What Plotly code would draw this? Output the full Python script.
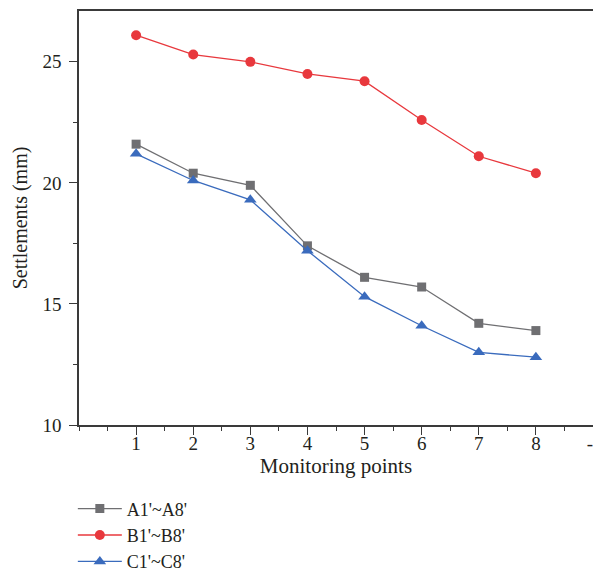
import plotly.graph_objects as go

points = [1, 2, 3, 4, 5, 6, 7, 8]
series_a = [21.6, 20.4, 19.9, 17.4, 16.1, 15.7, 14.2, 13.9]
series_b = [26.1, 25.3, 25.0, 24.5, 24.2, 22.6, 21.1, 20.4]
series_c = [21.2, 20.1, 19.3, 17.2, 15.3, 14.1, 13.0, 12.8]
names = ["A1'~A8'", "B1'~B8'", "C1'~C8'"]
x_tickvals = [1, 2, 3, 4, 5, 6, 7, 8, 9]
x_ticktext = ["1", "2", "3", "4", "5", "6", "7", "8", "--"]
y_tickvals = [10, 15, 20, 25]

FONT = "Liberation Serif"
AX = "#3a3a3a"

fig = go.Figure()
fig.add_trace(go.Scatter(x=points, y=series_a, name=names[0], mode="lines+markers",
                         line=dict(color="#6f6f72", width=1.3),
                         marker=dict(symbol="square", size=9, color="#6f6f72")))
fig.add_trace(go.Scatter(x=points, y=series_b, name=names[1], mode="lines+markers",
                         line=dict(color="#e8383d", width=1.3),
                         marker=dict(symbol="circle", size=10, color="#e8383d")))
fig.add_trace(go.Scatter(x=points, y=series_c, name=names[2], mode="lines+markers",
                         line=dict(color="#3a6bbd", width=1.3),
                         marker=dict(symbol="triangle-up", size=11, color="#3a6bbd")))

fig.update_layout(
    width=593, height=565,
    margin=dict(l=71, r=8, t=3, b=148, autoexpand=False),
    plot_bgcolor="white", paper_bgcolor="white",
    font=dict(family=FONT, size=19, color="#231f20"),
    showlegend=True,
    legend=dict(x=-0.012, y=-0.158, xanchor="left", yanchor="top",
                font=dict(family=FONT, size=18), tracegroupgap=0, itemwidth=44,
                bgcolor="rgba(0,0,0,0)"),
    xaxis=dict(range=[0, 9], tickmode="array", tickvals=x_tickvals, ticktext=x_ticktext,
               ticks="outside", ticklen=8, tickwidth=1.2, tickcolor=AX,
               ticklabelstandoff=-8,
               showline=True, linecolor=AX, linewidth=1.5, mirror=True,
               showgrid=False, zeroline=False,
               minor=dict(tickmode="linear", tick0=0, dtick=0.5, ticks="outside",
                          ticklen=4, tickwidth=1.2, tickcolor=AX),
               title=dict(text="Monitoring points", font=dict(size=21), standoff=3)),
    yaxis=dict(range=[10, 27.1], tickmode="array", tickvals=y_tickvals,
               ticks="outside", ticklen=8, tickwidth=1.2, tickcolor=AX,
               ticklabelstandoff=4,
               showline=True, linecolor=AX, linewidth=1.5, mirror=True,
               showgrid=False, zeroline=False,
               minor=dict(tickmode="linear", tick0=10, dtick=2.5, ticks="outside",
                          ticklen=4, tickwidth=1.2, tickcolor=AX),
               title=dict(text="Settlements (mm)", font=dict(size=20), standoff=9)),
)
for i in range(3):
    fig.data[i].legendgroup = str(i)
fig.update_layout(legend_traceorder="grouped")

fig.write_html("out.html")
